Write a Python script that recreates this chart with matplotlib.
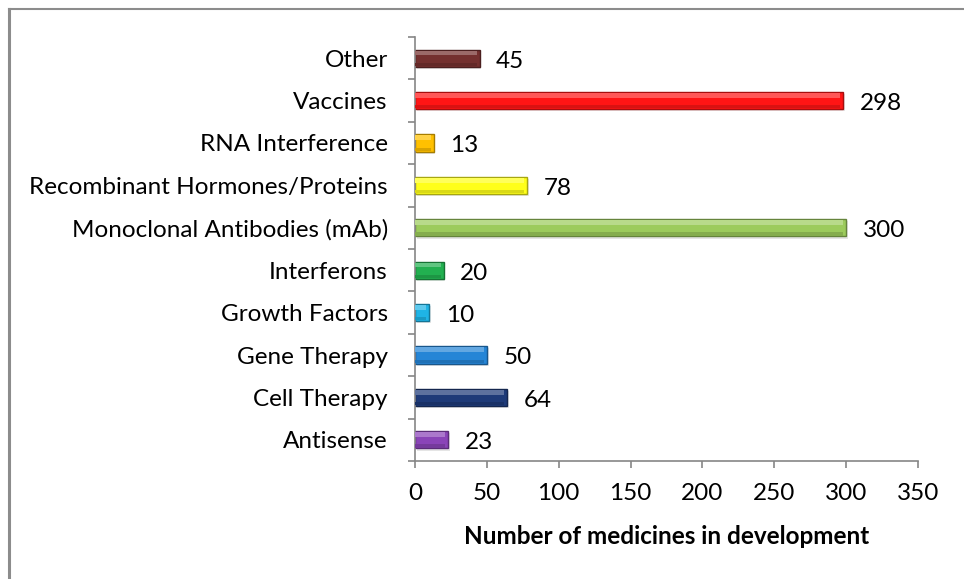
import matplotlib
matplotlib.use("Agg")
import matplotlib.pyplot as plt
from matplotlib.lines import Line2D
import matplotlib.colors as mcolors
import matplotlib.transforms as mtrans
import numpy as np

categories = ["Antisense", "Cell Therapy", "Gene Therapy", "Growth Factors", "Interferons",
              "Monoclonal Antibodies (mAb)", "Recombinant Hormones/Proteins",
              "RNA Interference", "Vaccines", "Other"]
values = [23, 64, 50, 10, 20, 300, 78, 13, 298, 45]
colors = ["#8A44B8", "#1E3A78", "#2585D6", "#1FB4E6", "#22B050",
          "#9CCB5C", "#FFFF1A", "#FFC000", "#FF1515", "#74302F"]
xticks = [0, 50, 100, 150, 200, 250, 300, 350]
xlabel = "Number of medicines in development"

plt.rcParams['font.family'] = ['Lato', 'DejaVu Sans']
FS = 17.5

fig = plt.figure(figsize=(9.64, 5.79), dpi=100)
ax = fig.add_axes([415/964, 1-461/579, (918-415)/964, (461-37)/579])

y = np.arange(len(categories))
h = 0.41

def mix(c, other, t):
    a = np.array(mcolors.to_rgb(c)); b = np.array(mcolors.to_rgb(other))
    return tuple(a*(1-t) + b*t)

# shadow
ax.barh(y - 0.05, values, height=h, color="#000000", alpha=0.10,
        left=1.2, zorder=1)
# main bars
edge = [mix(c, "black", 0.35) for c in colors]
ax.barh(y, values, height=h, color=colors, edgecolor=edge, linewidth=1.0, zorder=2)
# bevel highlight (top) and shade (bottom)
light = [mix(c, "white", 0.28) for c in colors]
ax.barh(y + h*0.30, [max(v - 2.5, 0) for v in values], height=h*0.28, color=light,
        linewidth=0, zorder=3, left=0.3)
dark = [mix(c, "black", 0.15) for c in colors]
ax.barh(y - h*0.36, [max(v - 2.5, 0) for v in values], height=h*0.18, color=dark,
        linewidth=0, zorder=3, left=0.3)

lbl_tr = mtrans.offset_copy(ax.transData, fig=fig, x=0, y=-3, units='dots')
for yi, v in zip(y, values):
    ax.text(v + 11.5, yi, str(v), va="center", ha="left", fontsize=FS, color="black",
            transform=lbl_tr)

ax.set_xlim(0, 350)
ax.set_ylim(-0.5, len(categories) - 0.5)
ax.set_xticks(xticks)
ax.set_xticklabels([str(t) for t in xticks], fontsize=FS)
ax.set_yticks(y)
ax.set_yticklabels(categories, fontsize=FS)
ax.set_yticks(np.arange(-0.5, len(categories), 1), minor=True)
ax.tick_params(axis='y', which='major', length=0, pad=19.5)
ax.tick_params(axis='y', which='minor', length=5, color="#868686", width=1.2, direction='out')
ax.tick_params(axis='x', length=5, color="#868686", width=1.2, direction='out', pad=11)
for s in ["top", "right"]:
    ax.spines[s].set_visible(False)
for s in ["left", "bottom"]:
    ax.spines[s].set_color("#868686")
    ax.spines[s].set_linewidth(1.2)
ax.set_xlabel(xlabel, fontsize=FS, fontweight="bold", labelpad=15)

# outer border (top and left)
fig.add_artist(Line2D([9/964, 964/964], [1-8.5/579, 1-8.5/579], color="#8C8C8C", lw=1.5,
                      transform=fig.transFigure))
fig.add_artist(Line2D([9/964, 9/964], [0, 1-8.5/579], color="#8C8C8C", lw=2.2,
                      transform=fig.transFigure))

fig.savefig("out.png", dpi=100)
